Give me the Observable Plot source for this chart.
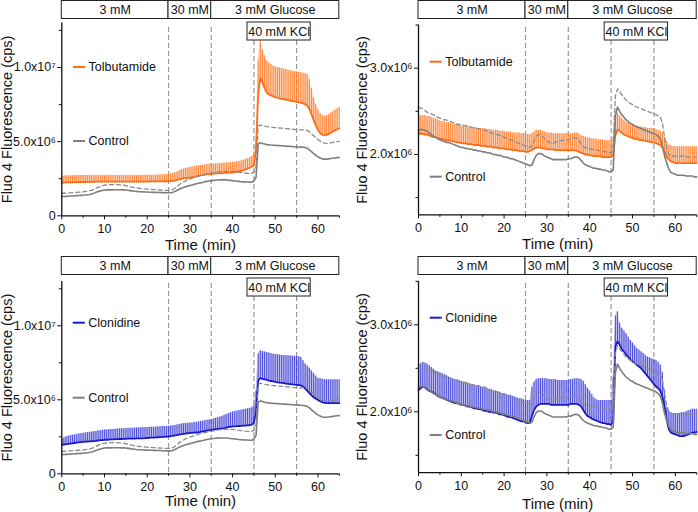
<!DOCTYPE html>
<html><head><meta charset="utf-8">
<script src="https://cdn.jsdelivr.net/npm/d3@7"></script>
<script src="https://cdn.jsdelivr.net/npm/@observablehq/plot@0.6"></script>
<style>
body{margin:0;background:#fff;}
#wrap{position:relative;width:698px;height:512px;overflow:hidden;font-family:"Liberation Sans",Arial,sans-serif;}
.panel{position:absolute;}
</style></head><body><div id="wrap"></div>
<script>
// ---------- data (fluorescence in units of 10^6 cps) ----------
const sampleStep = 0.5;                       // minutes between samples
const time = d3.range(0, 65 + sampleStep / 2, sampleStep);

const xTicks = [0, 10, 20, 30, 40, 50, 60];
const xMinorTicks = [5, 15, 25, 35, 45, 55, 65];
const leftYTicks = [0, 5, 10];
const leftYTickLabels = ["0", "5.0x10⁶", "1.0x10⁷"];
const leftYMinorTicks = [2.5, 7.5, 12.5];
const rightYTicks = [2, 3];
const rightYTickLabels = ["2.0x10⁶", "3.0x10⁶"];
const rightYMinorTicks = [1.5, 2.5, 3.5];

const phases = [
  {label: "3 mM", start: 0, end: 25},
  {label: "30 mM", start: 25, end: 35},
  {label: "3 mM Glucose", start: 35, end: 65}
];
const phaseBoundaries = [25, 35];
const kclBoundaries = [45, 55];
const kclLabel = {label: "40 mM KCl", from: 43.5, to: 58.3};
const xAxisTitle = "Time (min)";
const yAxisTitle = "Fluo 4 Fluorescence (cps)";

// left column control (mean and mean + SEM)
const ctrlLeftMean = [
1.30,1.30,1.31,1.32,1.33,1.34,1.35,1.36,1.37,1.38,
1.39,1.40,1.42,1.44,1.47,1.52,1.58,1.63,1.68,1.71,
1.74,1.75,1.75,1.75,1.76,1.76,1.76,1.76,1.75,1.75,
1.74,1.72,1.70,1.68,1.66,1.64,1.63,1.62,1.61,1.60,
1.60,1.59,1.59,1.58,1.58,1.57,1.57,1.56,1.56,1.55,
1.55,1.55,1.58,1.64,1.72,1.79,1.86,1.91,1.96,2.00,
2.04,2.08,2.12,2.16,2.19,2.22,2.25,2.29,2.32,2.35,
2.37,2.39,2.40,2.41,2.42,2.42,2.42,2.42,2.40,2.39,
2.37,2.35,2.33,2.32,2.30,2.29,2.28,2.28,2.27,2.27,
2.35,2.60,4.85,4.92,4.88,4.84,4.80,4.79,4.77,4.76,
4.75,4.74,4.73,4.72,4.71,4.70,4.69,4.68,4.67,4.66,
4.65,4.64,4.63,4.62,4.60,4.55,4.45,4.32,4.20,4.08,
3.98,3.90,3.84,3.82,3.82,3.84,3.86,3.88,3.90,3.92,
3.93];
const ctrlLeftUpper = [
1.52,1.52,1.53,1.54,1.55,1.56,1.57,1.58,1.59,1.60,
1.62,1.64,1.66,1.69,1.72,1.78,1.85,1.92,1.98,2.03,
2.06,2.08,2.09,2.10,2.10,2.10,2.10,2.09,2.08,2.06,
2.03,2.00,1.96,1.93,1.90,1.88,1.86,1.84,1.83,1.81,
1.80,1.79,1.78,1.77,1.76,1.75,1.74,1.73,1.72,1.72,
1.71,1.72,1.76,1.86,1.98,2.09,2.20,2.28,2.36,2.42,
2.48,2.53,2.58,2.63,2.67,2.71,2.75,2.79,2.82,2.85,
2.87,2.90,2.93,2.96,2.98,2.99,3.00,3.01,3.01,3.01,
3.00,2.98,2.96,2.94,2.92,2.90,2.88,2.87,2.86,2.86,
2.95,3.30,6.05,6.12,6.08,6.05,6.02,6.00,5.98,5.96,
5.95,5.94,5.92,5.91,5.90,5.88,5.87,5.85,5.84,5.82,
5.81,5.80,5.80,5.80,5.80,5.76,5.65,5.52,5.40,5.27,
5.15,5.05,4.95,4.90,4.88,4.89,4.92,4.95,4.97,5.00,
5.02];
// left column tolbutamide
const tolbLeftMean = [
2.22,2.24,2.25,2.25,2.26,2.26,2.27,2.27,2.27,2.28,
2.28,2.28,2.29,2.29,2.29,2.29,2.30,2.30,2.30,2.30,
2.30,2.30,2.30,2.31,2.31,2.31,2.31,2.31,2.31,2.31,
2.31,2.31,2.31,2.31,2.31,2.31,2.31,2.31,2.31,2.31,
2.31,2.31,2.32,2.32,2.32,2.32,2.32,2.32,2.33,2.33,
2.33,2.34,2.36,2.38,2.42,2.46,2.49,2.52,2.54,2.55,
2.57,2.60,2.63,2.66,2.69,2.72,2.74,2.77,2.79,2.81,
2.83,2.84,2.85,2.86,2.87,2.88,2.89,2.90,2.91,2.92,
2.93,2.95,2.97,3.00,3.03,3.06,3.12,3.18,3.24,3.31,
3.40,4.50,8.20,9.30,9.00,8.60,8.30,8.20,8.12,8.05,
8.00,7.96,7.92,7.89,7.86,7.83,7.80,7.77,7.74,7.71,
7.68,7.65,7.63,7.58,7.52,7.42,7.20,6.85,6.45,6.10,
5.80,5.58,5.47,5.44,5.46,5.52,5.60,5.68,5.76,5.84,
5.90];
const tolbLeftUpper = [
2.60,2.68,2.70,2.70,2.70,2.70,2.71,2.71,2.71,2.71,
2.71,2.71,2.71,2.71,2.72,2.72,2.72,2.72,2.72,2.72,
2.72,2.72,2.72,2.72,2.72,2.72,2.72,2.72,2.72,2.72,
2.72,2.72,2.72,2.72,2.72,2.72,2.72,2.72,2.72,2.73,
2.73,2.73,2.73,2.74,2.74,2.75,2.75,2.76,2.77,2.78,
2.80,2.83,2.86,2.90,2.96,3.03,3.10,3.15,3.20,3.23,
3.26,3.29,3.32,3.35,3.37,3.39,3.41,3.43,3.45,3.47,
3.48,3.49,3.50,3.51,3.52,3.53,3.55,3.56,3.57,3.58,
3.60,3.62,3.64,3.67,3.70,3.74,3.79,3.85,3.92,4.00,
4.10,5.00,10.50,11.90,11.20,10.80,10.45,10.30,10.20,10.10,
10.05,10.00,9.97,9.94,9.90,9.86,9.82,9.78,9.75,9.72,
9.70,9.68,9.66,9.62,9.58,9.52,9.20,8.60,7.95,7.50,
7.15,6.90,6.78,6.72,6.75,6.82,6.92,7.02,7.12,7.22,
7.30];
// left column clonidine
const cloLeftMean = [
1.96,1.98,2.00,2.02,2.04,2.06,2.08,2.10,2.12,2.14,
2.16,2.17,2.18,2.19,2.20,2.21,2.23,2.25,2.27,2.28,
2.29,2.30,2.31,2.32,2.33,2.34,2.34,2.35,2.35,2.36,
2.36,2.37,2.37,2.38,2.38,2.39,2.39,2.40,2.40,2.41,
2.42,2.43,2.44,2.45,2.46,2.47,2.48,2.49,2.50,2.51,
2.52,2.54,2.56,2.59,2.62,2.65,2.68,2.70,2.72,2.74,
2.76,2.77,2.78,2.79,2.80,2.83,2.86,2.89,2.92,2.95,
2.97,2.99,3.01,3.03,3.05,3.07,3.09,3.12,3.15,3.18,
3.20,3.21,3.22,3.23,3.24,3.25,3.26,3.27,3.28,3.32,
3.45,4.20,6.30,6.46,6.42,6.38,6.34,6.30,6.27,6.24,
6.21,6.18,6.16,6.14,6.12,6.10,6.08,6.06,6.04,6.02,
6.01,6.00,5.97,5.90,5.75,5.60,5.45,5.30,5.17,5.07,
4.98,4.90,4.84,4.80,4.78,4.77,4.77,4.77,4.77,4.77,
4.77];
const cloLeftUpper = [
2.34,2.42,2.50,2.54,2.57,2.60,2.63,2.66,2.69,2.72,
2.74,2.76,2.78,2.80,2.82,2.84,2.86,2.89,2.92,2.94,
2.96,2.97,2.98,2.99,3.00,3.01,3.02,3.03,3.04,3.05,
3.06,3.07,3.08,3.08,3.09,3.10,3.10,3.11,3.12,3.12,
3.13,3.14,3.15,3.15,3.16,3.17,3.18,3.19,3.19,3.20,
3.21,3.23,3.25,3.27,3.30,3.33,3.36,3.38,3.40,3.41,
3.42,3.44,3.46,3.48,3.50,3.53,3.56,3.59,3.62,3.64,
3.66,3.70,3.74,3.78,3.83,3.88,3.94,4.00,4.06,4.12,
4.18,4.21,4.24,4.27,4.30,4.33,4.36,4.39,4.42,4.47,
4.60,5.60,8.10,8.31,8.27,8.23,8.20,8.16,8.12,8.09,
8.06,8.04,8.02,8.00,7.99,7.98,7.97,7.96,7.95,7.94,
7.93,7.91,7.88,7.65,7.42,7.28,7.14,6.95,6.78,6.60,
6.46,6.42,6.39,6.37,6.36,6.35,6.35,6.35,6.35,6.35,
6.35];
// right column control
const ctrlRightMean = [
2.28,2.29,2.29,2.28,2.27,2.25,2.23,2.21,2.20,2.18,
2.17,2.16,2.15,2.14,2.14,2.13,2.12,2.11,2.10,2.09,
2.08,2.08,2.07,2.07,2.06,2.06,2.05,2.05,2.04,2.04,
2.03,2.03,2.02,2.02,2.01,2.00,2.00,1.99,1.99,1.98,
1.97,1.97,1.96,1.95,1.95,1.94,1.93,1.92,1.91,1.90,
1.89,1.88,1.87,1.88,1.94,1.99,2.01,2.01,2.00,1.98,
1.97,1.96,1.95,1.94,1.94,1.94,1.94,1.94,1.94,1.94,
1.95,1.95,1.96,1.97,1.97,1.96,1.93,1.90,1.88,1.87,
1.86,1.85,1.84,1.84,1.83,1.83,1.82,1.82,1.81,1.80,
1.80,1.82,2.45,2.55,2.50,2.46,2.43,2.40,2.38,2.36,
2.35,2.33,2.32,2.31,2.30,2.29,2.28,2.27,2.26,2.25,
2.24,2.23,2.21,2.18,2.10,1.98,1.90,1.83,1.79,1.78,
1.77,1.76,1.76,1.76,1.76,1.75,1.75,1.75,1.75,1.74,
1.74];
const ctrlRightUpper = [
2.54,2.54,2.53,2.51,2.49,2.48,2.47,2.46,2.44,2.43,
2.42,2.41,2.40,2.40,2.39,2.38,2.37,2.36,2.35,2.35,
2.34,2.34,2.33,2.33,2.32,2.31,2.31,2.30,2.30,2.29,
2.29,2.28,2.27,2.26,2.25,2.24,2.23,2.23,2.22,2.21,
2.20,2.19,2.18,2.17,2.16,2.15,2.14,2.13,2.12,2.11,
2.10,2.09,2.08,2.10,2.16,2.21,2.23,2.23,2.21,2.18,
2.16,2.14,2.13,2.13,2.14,2.15,2.16,2.16,2.17,2.17,
2.17,2.18,2.18,2.19,2.19,2.17,2.12,2.09,2.08,2.07,
2.07,2.06,2.06,2.05,2.05,2.04,2.04,2.03,2.03,2.02,
2.02,2.10,2.68,2.76,2.73,2.69,2.66,2.63,2.61,2.59,
2.58,2.56,2.55,2.54,2.53,2.52,2.51,2.50,2.49,2.48,
2.47,2.46,2.45,2.43,2.36,2.20,2.07,2.00,1.98,1.98,
1.98,1.98,1.98,1.98,1.98,1.98,1.97,1.97,1.97,1.97,
1.97];
// right column tolbutamide
const tolbRightMean = [
2.24,2.24,2.24,2.23,2.23,2.22,2.21,2.20,2.20,2.19,
2.18,2.18,2.17,2.17,2.16,2.16,2.15,2.15,2.14,2.14,
2.13,2.13,2.13,2.12,2.12,2.12,2.11,2.11,2.11,2.10,
2.10,2.10,2.09,2.09,2.09,2.08,2.08,2.08,2.07,2.07,
2.07,2.06,2.06,2.06,2.05,2.05,2.05,2.04,2.04,2.04,
2.03,2.03,2.04,2.05,2.07,2.08,2.08,2.08,2.07,2.07,
2.06,2.06,2.06,2.06,2.05,2.05,2.05,2.05,2.05,2.05,
2.05,2.05,2.05,2.05,2.04,2.03,2.02,2.01,2.00,2.00,
1.99,1.99,1.98,1.98,1.98,1.98,1.97,1.97,1.97,1.97,
1.97,2.00,2.22,2.29,2.27,2.25,2.23,2.22,2.21,2.20,
2.19,2.18,2.18,2.17,2.17,2.16,2.16,2.15,2.15,2.14,
2.14,2.13,2.12,2.11,2.08,2.03,1.97,1.94,1.92,1.91,
1.90,1.90,1.90,1.90,1.90,1.90,1.90,1.90,1.90,1.90,
1.90];
const tolbRightUpper = [
2.42,2.45,2.45,2.45,2.44,2.44,2.43,2.42,2.41,2.40,
2.39,2.38,2.38,2.37,2.37,2.36,2.35,2.35,2.34,2.34,
2.33,2.33,2.32,2.32,2.32,2.31,2.31,2.31,2.30,2.30,
2.30,2.30,2.29,2.29,2.29,2.28,2.28,2.28,2.27,2.27,
2.27,2.26,2.26,2.26,2.25,2.25,2.25,2.25,2.24,2.24,
2.24,2.23,2.23,2.24,2.26,2.28,2.28,2.28,2.27,2.26,
2.25,2.25,2.25,2.24,2.24,2.24,2.24,2.24,2.24,2.24,
2.24,2.24,2.24,2.25,2.25,2.24,2.22,2.21,2.20,2.19,
2.19,2.18,2.18,2.18,2.17,2.17,2.17,2.16,2.16,2.16,
2.16,2.20,2.42,2.48,2.45,2.42,2.39,2.37,2.36,2.35,
2.34,2.33,2.33,2.32,2.32,2.31,2.31,2.30,2.30,2.30,
2.30,2.29,2.28,2.27,2.25,2.20,2.15,2.11,2.10,2.09,
2.09,2.09,2.09,2.09,2.09,2.09,2.09,2.09,2.09,2.09,
2.09];
// right column clonidine
const cloRightMean = [
2.25,2.27,2.29,2.28,2.26,2.24,2.23,2.22,2.20,2.18,
2.17,2.16,2.15,2.14,2.13,2.12,2.11,2.10,2.10,2.09,
2.08,2.08,2.07,2.06,2.06,2.05,2.04,2.04,2.03,2.03,
2.02,2.01,2.01,2.00,2.00,1.99,1.99,1.98,1.97,1.97,
1.96,1.95,1.94,1.94,1.93,1.92,1.91,1.90,1.89,1.89,
1.88,1.87,1.87,1.95,2.02,2.06,2.08,2.09,2.09,2.09,
2.09,2.09,2.08,2.08,2.08,2.08,2.08,2.08,2.08,2.08,
2.08,2.09,2.09,2.09,2.09,2.08,2.06,2.02,1.98,1.95,
1.94,1.92,1.91,1.90,1.89,1.88,1.87,1.87,1.86,1.86,
1.85,1.90,2.75,2.81,2.77,2.72,2.69,2.66,2.63,2.60,
2.58,2.56,2.54,2.52,2.50,2.47,2.44,2.41,2.38,2.35,
2.32,2.29,2.27,2.24,2.17,2.05,1.90,1.80,1.76,1.75,
1.74,1.73,1.72,1.72,1.72,1.73,1.74,1.75,1.76,1.76,
1.77];
const cloRightUpper = [
2.52,2.55,2.57,2.56,2.55,2.53,2.51,2.49,2.47,2.46,
2.45,2.44,2.43,2.42,2.40,2.39,2.38,2.37,2.37,2.36,
2.35,2.34,2.34,2.33,2.32,2.31,2.31,2.30,2.29,2.29,
2.28,2.27,2.26,2.26,2.25,2.24,2.24,2.23,2.22,2.21,
2.21,2.20,2.19,2.19,2.18,2.17,2.16,2.15,2.15,2.14,
2.13,2.13,2.13,2.28,2.34,2.37,2.38,2.38,2.38,2.38,
2.38,2.37,2.37,2.37,2.37,2.36,2.36,2.36,2.36,2.36,
2.36,2.37,2.37,2.38,2.38,2.38,2.37,2.35,2.31,2.27,
2.24,2.20,2.16,2.14,2.13,2.13,2.13,2.13,2.13,2.13,
2.13,2.40,3.10,3.15,3.02,2.96,2.93,2.90,2.86,2.82,
2.79,2.76,2.73,2.71,2.69,2.67,2.65,2.63,2.62,2.61,
2.60,2.59,2.57,2.54,2.45,2.25,2.05,2.00,1.99,1.98,
1.98,1.98,1.98,1.99,1.99,2.00,2.01,2.02,2.03,2.03,
2.03];

// ---------- styling ----------
const orange = {line: "#ff6a13", bar: "#ff7a26", fill: "#ff8f45"};
const blue = {line: "#1818cc", bar: "#3a3ad6", fill: "#6a6ae4"};
const FONT = '"Liberation Sans", Arial, Helvetica, sans-serif';

const panels = [
  {left: 0, top: 0, width: 349, ml: 61.3, mr: 10.2, mt: 22.5, mb: 40.7,
   yDomain: [0, 13], yTicks: leftYTicks, yLabels: leftYTickLabels, yMinor: leftYMinorTicks,
   drug: "Tolbutamide", mean: tolbLeftMean, upper: tolbLeftUpper, col: orange,
   ctrlMean: ctrlLeftMean, ctrlUpper: ctrlLeftUpper,
   leg: {x: 73, yDrug: 67, yCtrl: 141}, ylabX: 7, xlabY: 245},
  {left: 348, top: 0, width: 350, ml: 70, mr: 1.8, mt: 24.5, mb: 41.6,
   yDomain: [1.3, 3.5], yTicks: rightYTicks, yLabels: rightYTickLabels, yMinor: rightYMinorTicks,
   drug: "Tolbutamide", mean: tolbRightMean, upper: tolbRightUpper, col: orange,
   ctrlMean: ctrlRightMean, ctrlUpper: ctrlRightUpper,
   leg: {x: 81.7, yDrug: 61.7, yCtrl: 176.7}, ylabX: 14, xlabY: 243.5},
  {left: 0, top: 256, width: 349, ml: 61.3, mr: 10.2, mt: 24.9, mb: 38.7,
   yDomain: [0, 13], yTicks: leftYTicks, yLabels: leftYTickLabels, yMinor: leftYMinorTicks,
   drug: "Clonidine", mean: cloLeftMean, upper: cloLeftUpper, col: blue,
   ctrlMean: ctrlLeftMean, ctrlUpper: ctrlLeftUpper,
   leg: {x: 72.7, yDrug: 66.7, yCtrl: 141.7}, ylabX: 7, xlabY: 245},
  {left: 348, top: 256, width: 350, ml: 70, mr: 1.8, mt: 24.8, mb: 39.8,
   yDomain: [1.3, 3.5], yTicks: rightYTicks, yLabels: rightYTickLabels, yMinor: rightYMinorTicks,
   drug: "Clonidine", mean: cloRightMean, upper: cloRightUpper, col: blue,
   ctrlMean: ctrlRightMean, ctrlUpper: ctrlRightUpper,
   leg: {x: 81.7, yDrug: 61.7, yCtrl: 179}, ylabX: 14, xlabY: 248}
];

function buildPanel(p) {
  const H = 256;
  const rows = time.map((t, i) => ({t, mean: p.mean[i], upper: p.upper[i], cMean: p.ctrlMean[i], cUpper: p.ctrlUpper[i]}));
  const labelMap = new Map(p.yTicks.map((v, i) => [v, p.yLabels[i]]));
  const top = p.yDomain[1];
  const frameBottom = H - p.mb;
  const svg = Plot.plot({
    width: p.width, height: H,
    marginLeft: p.ml, marginRight: p.mr, marginTop: p.mt, marginBottom: p.mb,
    x: {domain: [0, 65], label: null},
    y: {domain: p.yDomain, label: null},
    style: {fontFamily: FONT, fontSize: "12px", color: "#111", background: "transparent", overflow: "visible"},
    marks: [
      Plot.ruleX(phaseBoundaries, {x: d => d, stroke: "#9a9a9a", strokeWidth: 1.2, strokeDasharray: "5,3", insetTop: 27 - p.mt}),
      Plot.ruleX(kclBoundaries, {x: d => d, stroke: "#9a9a9a", strokeWidth: 1.2, strokeDasharray: "5,3", insetTop: 40 - p.mt}),
      Plot.areaY(rows, {x: "t", y1: "mean", y2: "upper", fill: p.col.fill, fillOpacity: 0.42}),
      Plot.ruleX(rows, {x: "t", y1: "mean", y2: "upper", stroke: p.col.bar, strokeWidth: 1, strokeOpacity: 0.85}),
      Plot.line(rows, {x: "t", y: "mean", stroke: p.col.line, strokeWidth: 1.8}),
      Plot.line(rows, {x: "t", y: "cUpper", stroke: "#8a8a8a", strokeWidth: 1.3, strokeDasharray: "4,3"}),
      Plot.line(rows, {x: "t", y: "cMean", stroke: "#7e7e7e", strokeWidth: 1.6}),
      Plot.ruleX([0], {stroke: "#111", strokeWidth: 1.3}),
      Plot.ruleY([p.yDomain[0]], {stroke: "#111", strokeWidth: 1.3}),
      Plot.axisX({ticks: xTicks, tickSize: 4, tickPadding: 4, fontSize: 12.5, label: null}),
      Plot.axisX({ticks: xMinorTicks, tickSize: 2.5, tickFormat: () => "", label: null}),
      Plot.axisY({ticks: p.yTicks, tickSize: 4, tickPadding: 2, fontSize: 12.5, tickFormat: d => labelMap.get(d), label: null}),
      Plot.axisY({ticks: p.yMinor, tickSize: 2.5, tickFormat: () => "", label: null}),
      Plot.rect(phases, {x1: "start", x2: "end", y1: () => top, y2: () => top,
        insetTop: 0.5 - p.mt, insetBottom: p.mt - 18.5, fill: "white", stroke: "#222", strokeWidth: 1}),
      Plot.text(phases, {x: d => (d.start + d.end) / 2, text: "label", frameAnchor: "top", lineAnchor: "middle",
        dy: 9.5 - p.mt, fontSize: 12.5, fill: "#111"}),
      Plot.rect([kclLabel], {x1: "from", x2: "to", y1: () => top, y2: () => top,
        insetTop: 22 - p.mt, insetBottom: p.mt - 40, fill: "white", stroke: "#222", strokeWidth: 1}),
      Plot.text([kclLabel], {x: d => (d.from + d.to) / 2, text: "label", frameAnchor: "top", lineAnchor: "middle",
        dy: 31 - p.mt, fontSize: 12.5, fill: "#111"}),
      Plot.text([yAxisTitle], {frameAnchor: "left", textAnchor: "middle", lineAnchor: "middle",
        dx: p.ylabX - p.ml, rotate: -90, fontSize: 14.5, fill: "#111"}),
      Plot.text([xAxisTitle], {frameAnchor: "bottom", textAnchor: "middle", lineAnchor: "middle",
        dy: p.xlabY - frameBottom, fontSize: 15, fill: "#111"})
    ]
  });
  // in-plot legend
  const g = d3.select(svg).append("g").attr("font-family", FONT).attr("font-size", 12.5)
    .attr("fill", "#111").attr("text-anchor", "start");
  const items = [{name: p.drug, color: p.col.line, y: p.leg.yDrug}, {name: "Control", color: "#7e7e7e", y: p.leg.yCtrl}];
  for (const it of items) {
    g.append("line").attr("x1", p.leg.x).attr("x2", p.leg.x + 12).attr("y1", it.y).attr("y2", it.y)
      .attr("stroke", it.color).attr("stroke-width", 2);
    g.append("text").attr("x", p.leg.x + 15.5).attr("y", it.y).attr("dy", "0.35em").text(it.name);
  }
  const div = document.createElement("div");
  div.className = "panel";
  div.style.left = p.left + "px";
  div.style.top = p.top + "px";
  div.appendChild(svg);
  document.getElementById("wrap").appendChild(div);
}
panels.forEach(buildPanel);
</script></body></html>
